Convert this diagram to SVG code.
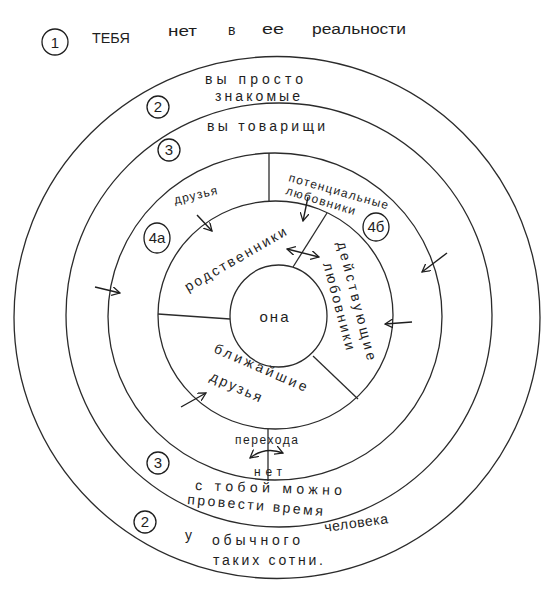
<svg xmlns="http://www.w3.org/2000/svg" width="547" height="601" viewBox="0 0 547 601">
<style>
.ring{fill:none;stroke:#2b2b2b;stroke-width:1.3}
.ln{fill:none;stroke:#2b2b2b;stroke-width:1.3}
.ar{fill:none;stroke:#1e1e1e;stroke-width:1.4;marker-end:url(#ah)}
.ar2{fill:none;stroke:#1e1e1e;stroke-width:1.4;marker-end:url(#ah);marker-start:url(#ah)}
.t{font-family:"Liberation Sans","DejaVu Sans",sans-serif;font-size:14px;fill:#1e1e1e}
.s{font-size:12px}
.num{fill:none;stroke:#1e1e1e;stroke-width:1.3}
.nt{font-family:"Liberation Sans","DejaVu Sans",sans-serif;font-size:15px;fill:#1e1e1e;text-anchor:middle}
</style>
<defs>
<marker id="ah" viewBox="0 0 10 10" refX="9" refY="5" markerWidth="9" markerHeight="9" markerUnits="userSpaceOnUse" orient="auto-start-reverse">
<path d="M0,0 L9,5 L0,10" fill="none" stroke="#1e1e1e" stroke-width="1.4"/>
</marker>
</defs>
<rect width="547" height="601" fill="#ffffff"/>

<g id="zone1">
<ellipse class="ring" cx="277" cy="317.5" rx="263" ry="261"/>
<circle class="num" cx="55" cy="42" r="13"/>
<text class="nt" x="55" y="48" font-size="17">1</text>
<text class="t" x="92" y="43" textLength="38" lengthAdjust="spacingAndGlyphs">ТЕБЯ</text>
<text class="t" x="168" y="36" textLength="29" lengthAdjust="spacingAndGlyphs">нет</text>
<text class="t" x="228" y="35">в</text>
<text class="t" x="262" y="34" textLength="22" lengthAdjust="spacingAndGlyphs">ее</text>
<text class="t" x="312" y="34" textLength="94" lengthAdjust="spacingAndGlyphs">реальности</text>
</g>

<g id="zone2">
<ellipse class="ring" cx="279" cy="315" rx="213" ry="212"/>
<circle class="num" cx="158" cy="107" r="11"/>
<text class="nt" x="158" y="112" font-size="14">2</text>
<text class="t" x="205" y="84" textLength="98" lengthAdjust="spacing">вы  просто</text>
<text class="t" x="215" y="101" textLength="85" lengthAdjust="spacing">знакомые</text>
<circle class="num" cx="145" cy="522" r="11"/>
<text class="nt" x="145" y="527" font-size="14">2</text>
<text class="t" x="185" y="540">у</text>
<text class="t" x="212" y="545" textLength="88" lengthAdjust="spacing">обычного</text>
<text class="t" transform="translate(325,532) rotate(-8)" textLength="64" lengthAdjust="spacing">человека</text>
<text class="t" x="213" y="565" textLength="110" lengthAdjust="spacing">таких сотни.</text>
</g>

<g id="zone3">
<ellipse class="ring" cx="275" cy="316.5" rx="167" ry="163.5"/>
<text class="t" x="207" y="131" textLength="118" lengthAdjust="spacing">вы  товарищи</text>
<circle class="num" cx="169" cy="150" r="11"/>
<text class="nt" x="169" y="155" font-size="14">3</text>
<circle class="num" cx="158" cy="463" r="11"/>
<text class="nt" x="158" y="468" font-size="14">3</text>
<text class="t" transform="translate(195,490) rotate(2)" textLength="147" lengthAdjust="spacing">с  тобой  можно</text>
<text class="t" transform="translate(187,504) rotate(5)" textLength="136" lengthAdjust="spacing">провести  время</text>
<text class="t s" x="235" y="444" textLength="63" lengthAdjust="spacing">перехода</text>
<text class="t s" x="254" y="476" textLength="28" lengthAdjust="spacing">нет</text>
</g>

<g id="zone4a">
<ellipse class="num" cx="157" cy="238" rx="13" ry="15"/>
<text class="nt" x="157" y="243" font-size="13">4а</text>
<text class="t s" transform="translate(175,204) rotate(-13)" textLength="44" lengthAdjust="spacing">друзья</text>
</g>

<g id="zone4b">
<ellipse class="num" cx="376" cy="227" rx="13" ry="14"/>
<text class="nt" x="376" y="232" font-size="13">4б</text>
<text class="t s" transform="translate(288,181) rotate(16)" textLength="103" lengthAdjust="spacing">потенциальные</text>
<text class="t s" transform="translate(285,194) rotate(17)" textLength="72" lengthAdjust="spacing">любовники</text>
</g>

<g id="relatives">
<ellipse class="ring" cx="275.5" cy="315" rx="117.5" ry="114"/>
<text class="t" font-size="15" transform="translate(188,292) rotate(-30)" textLength="115" lengthAdjust="spacing">родственники</text>
</g>

<g id="lovers">
<text class="t" transform="translate(337,243) rotate(75.5)" textLength="122" lengthAdjust="spacing">действующие</text>
<text class="t" transform="translate(323,264) rotate(75)" textLength="90" lengthAdjust="spacing">любовники</text>
</g>

<g id="closest">
<text class="t" transform="translate(213,352) rotate(23.5)" textLength="100" lengthAdjust="spacing">ближайшие</text>
<text class="t" transform="translate(209,380) rotate(24)" textLength="55" lengthAdjust="spacing">друзья</text>
</g>

<g id="she">
<ellipse class="ring" cx="278.5" cy="316" rx="48.5" ry="51"/>
<text class="nt" x="275" y="322" font-size="17" letter-spacing="2">она</text>
</g>

<g id="connectors">
<line class="ln" x1="269" y1="153" x2="269" y2="201"/>
<line class="ln" x1="293" y1="267" x2="327" y2="213"/>
<line class="ln" x1="158" y1="314" x2="230" y2="319"/>
<line class="ln" x1="313" y1="356" x2="358" y2="399"/>
<line class="ln" x1="268" y1="429" x2="268" y2="481"/>
<line class="ar" x1="95" y1="287" x2="120" y2="293"/>
<line class="ar" x1="447" y1="253" x2="422" y2="272"/>
<line class="ar" x1="412" y1="322" x2="385" y2="324"/>
<line class="ar" x1="181" y1="407" x2="206" y2="393"/>
<line class="ar" x1="197" y1="215" x2="212" y2="231"/>
<line class="ar" x1="308" y1="197" x2="303" y2="221"/>
<line class="ar2" x1="287" y1="249" x2="319" y2="257"/>
<path class="ar2" d="M250,458 Q265,446 283,453"/>
</g>
</svg>
